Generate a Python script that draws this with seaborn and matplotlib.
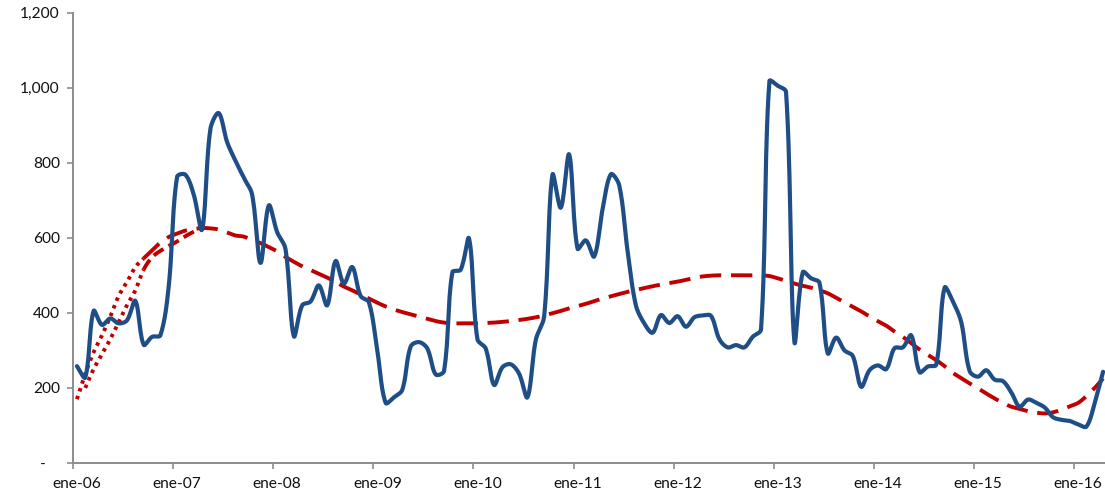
import numpy as np
import pandas as pd
import matplotlib
matplotlib.use("Agg")
import matplotlib.pyplot as plt
import matplotlib.transforms as mtransforms
from matplotlib.ticker import FuncFormatter, FixedLocator
import seaborn as sns

# Monthly series, Jan 2006 - Apr 2016
first_month = "2006-01"
serie = [
    258, 228, 405, 368, 385, 372, 380, 432, 315, 336, 340, 470,   # 2006
    762, 768, 715, 622, 890, 932, 855, 805, 760, 715, 533, 686,   # 2007
    615, 570, 338, 420, 430, 473, 420, 538, 478, 522, 445, 428,   # 2008
    300, 160, 175, 195, 310, 322, 305, 236, 245, 508, 515, 598,   # 2009
    330, 305, 208, 255, 263, 238, 175, 328, 390, 768, 680, 822,   # 2010
    571, 593, 550, 675, 769, 740, 565, 420, 372, 347, 394, 373,   # 2011
    391, 363, 388, 393, 392, 330, 308, 314, 308, 336, 356, 1017,  # 2012
    1005, 988, 323, 508, 492, 480, 292, 334, 300, 285, 203, 247,  # 2013
    260, 250, 306, 308, 340, 242, 257, 262, 467, 430, 375, 245,   # 2014
    230, 247, 222, 218, 188, 150, 169, 160, 148, 122, 115, 112,   # 2015
    103, 97, 160, 243,                                            # 2016
]

# Trend line (same months)
tendencia = [
    170, 238, 295, 340, 390, 445, 482, 522, 545, 566, 587, 602,
    611, 619, 623, 626, 625, 622, 614, 606, 603, 594, 586, 575,
    564, 549, 536, 524, 514, 504, 494, 482, 470, 460, 449, 438,
    427, 417, 409, 402, 396, 390, 384, 378, 374, 372, 372, 372,
    372, 373, 374, 376, 378, 381, 384, 388, 393, 399, 405, 412,
    418, 424, 431, 438, 444, 450, 456, 461, 466, 471, 475, 479,
    483, 488, 493, 497, 499, 500, 500, 500, 500, 500, 500, 498,
    492, 485, 478, 472, 467, 460, 452, 440, 428, 416, 404, 390,
    378, 366, 350, 336, 319, 302, 288, 274, 258, 240, 226, 212,
    199, 185, 172, 160, 150, 144, 138, 134, 132, 135, 142, 151,
    160, 178, 200, 225,
]

# Second early trend estimate (months 1-15 of 2006-2007)
tendencia_ini = [200, 250, 290, 330, 375, 420, 460, 515, 548, 565, 578, 590, 604, 616, 626]
tendencia_ini_start = 1

year_labels = ["ene-06", "ene-07", "ene-08", "ene-09", "ene-10", "ene-11",
               "ene-12", "ene-13", "ene-14", "ene-15", "ene-16"]
y_ticks = [0, 200, 400, 600, 800, 1000, 1200]

BLUE = "#1F4E87"
RED = "#C00000"
GRAY = "#8C8C8C"

months = pd.period_range(first_month, periods=len(serie), freq="M")
# points sit mid-month on a month-based axis
xpos = np.arange(len(serie)) + 0.47

PX_X = 8.342   # approximate pixels per month
PX_Y = 0.376   # approximate pixels per unit


def smooth_curve(x, y, n=16):
    """Bezier smoothing with chord-length weighted tangents (spreadsheet style)."""
    x = np.asarray(x, float)
    y = np.asarray(y, float)
    px, py = x * PX_X, y * PX_Y
    m = len(x)
    P = np.column_stack([px, py])
    Pe = np.vstack([P[0], P, P[-1]])
    d = np.linalg.norm(np.diff(Pe, axis=0), axis=1)
    out = []
    t = np.linspace(0, 1, n, endpoint=False)[:, None]
    for i in range(m - 1):
        p0, p1 = P[i], P[i + 1]
        T0 = Pe[i + 2] - Pe[i]
        T1 = Pe[i + 3] - Pe[i + 1]
        dp0, dn0 = d[i], d[i + 1]
        dp1, dn1 = d[i + 1], d[i + 2]
        c1 = p0 + T0 * (dn0 / (3 * (dp0 + dn0))) if dp0 + dn0 > 0 else p0
        c2 = p1 - T1 * (dp1 / (3 * (dp1 + dn1))) if dp1 + dn1 > 0 else p1
        seg = ((1 - t) ** 3) * p0 + 3 * ((1 - t) ** 2) * t * c1 + 3 * (1 - t) * t ** 2 * c2 + t ** 3 * p1
        out.append(seg)
    out.append(P[-1][None, :])
    out = np.vstack(out)
    return out[:, 0] / PX_X, out[:, 1] / PX_Y


sns.set_theme(style="ticks")
plt.rcParams["font.family"] = ["Lato", "DejaVu Sans"]

fig = plt.figure(figsize=(11.05, 5.0), dpi=100)
ax = fig.add_axes([73 / 1105, 37 / 500, (1105 - 73) / 1105, (463 - 12.5) / 500])

# Trend: dotted start, dashed afterwards
split = 8
tx, ty = smooth_curve(xpos, tendencia)
cut = tx <= xpos[split]
sns.lineplot(x=tx[cut], y=ty[cut], ax=ax, color=RED, linewidth=2.8,
             sort=False, estimator=None)
ax.lines[-1].set_linestyle((0, (0.9, 1.2)))
sns.lineplot(x=tx[tx >= xpos[split]], y=ty[tx >= xpos[split]], ax=ax, color=RED,
             linewidth=2.8, sort=False, estimator=None)
ax.lines[-1].set_linestyle((0, (5.5, 2.5)))

bx = xpos[tendencia_ini_start:tendencia_ini_start + len(tendencia_ini)]
sx, sy = smooth_curve(bx, tendencia_ini)
cut_b = sx <= xpos[split]
sns.lineplot(x=sx[cut_b], y=sy[cut_b], ax=ax, color=RED, linewidth=2.8,
             sort=False, estimator=None)
ax.lines[-1].set_linestyle((0, (0.9, 1.2)))
sns.lineplot(x=sx[sx >= xpos[split]], y=sy[sx >= xpos[split]], ax=ax, color=RED,
             linewidth=2.8, sort=False, estimator=None)
ax.lines[-1].set_linestyle((0, (3, 1.5)))

# Main series
lx, ly = smooth_curve(xpos, serie)
sns.lineplot(x=lx, y=ly, ax=ax, color=BLUE, linewidth=3.0, sort=False,
             estimator=None)
ax.lines[-1].set_solid_capstyle("round")
ax.lines[-1].set_solid_joinstyle("round")

ax.set_xlim(0, 123.7)
ax.set_ylim(0, 1200)
ax.set_xlabel("")
ax.set_ylabel("")

ax.xaxis.set_major_locator(FixedLocator(np.arange(len(year_labels)) * 12))
ax.set_xticklabels(year_labels)
ax.set_yticks(y_ticks)
ax.yaxis.set_major_formatter(FuncFormatter(lambda v, p: "-" if v == 0 else f"{v:,.0f}"))

for side in ("top", "right"):
    ax.spines[side].set_visible(False)
for side in ("left", "bottom"):
    ax.spines[side].set_color(GRAY)
    ax.spines[side].set_linewidth(1.4)
ax.spines["left"].set_zorder(0)

ax.tick_params(axis="both", colors=GRAY, length=4, width=1.2, labelcolor="#111111",
               labelsize=11.2)
ax.tick_params(axis="x", pad=6)
ax.tick_params(axis="y", pad=5.5)

fig.canvas.draw()
shift = mtransforms.ScaledTranslation(4 / 100, 0, fig.dpi_scale_trans)
for lab in ax.get_xticklabels():
    lab.set_transform(lab.get_transform() + shift)
zero_shift = mtransforms.ScaledTranslation(-14 / 100, 0, fig.dpi_scale_trans)
ylabs = ax.get_yticklabels()
ylabs[0].set_transform(ylabs[0].get_transform() + zero_shift)

fig.savefig("out.png", dpi=100)
